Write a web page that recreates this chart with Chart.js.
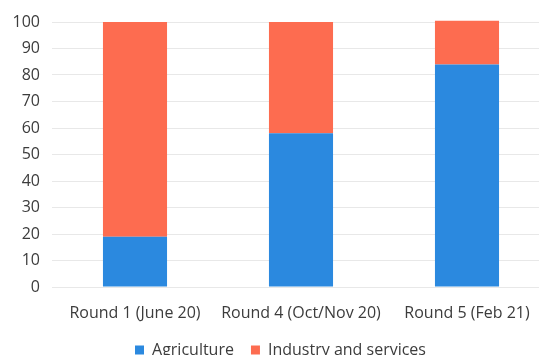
<!DOCTYPE html>
<html>
<head>
<meta charset="utf-8">
<script src="https://cdn.jsdelivr.net/npm/chart.js@4/dist/chart.umd.min.js"></script>
<style>
  html, body { margin: 0; padding: 0; background: #ffffff; overflow: hidden; }
  #wrap { position: absolute; left: 0; top: 0; width: 560px; height: 368px; }
</style>
</head>
<body>
<div id="wrap"><canvas id="chart"></canvas></div>
<script>
// Survey rounds and the share of respondents by sector (%)
const rounds = ['Round 1 (June 20)', 'Round 4 (Oct/Nov 20)', 'Round 5 (Feb 21)'];
const agriculture = [19, 58, 84];
const industryServices = [81, 42, 16.5];
const yTicks = [0, 10, 20, 30, 40, 50, 60, 70, 80, 90, 100];

const FONT = '"Open Sans", "Noto Sans", sans-serif';
const TEXT = '#3c3c3c';

new Chart(document.getElementById('chart'), {
  type: 'bar',
  data: {
    labels: rounds,
    datasets: [
      {
        label: 'Agriculture',
        data: agriculture,
        backgroundColor: '#2b89df',
        borderWidth: 0,
        clip: false
      },
      {
        label: 'Industry and services',
        data: industryServices,
        backgroundColor: '#fd6c50',
        borderWidth: 0,
        clip: false
      }
    ]
  },
  options: {
    responsive: true,
    maintainAspectRatio: false,
    animation: false,
    layout: { padding: { left: 11, right: 10, top: 22, bottom: 0 } },
    datasets: {
      bar: { barPercentage: 1, categoryPercentage: 0.386 }
    },
    plugins: {
      legend: {
        position: 'bottom',
        labels: {
          boxWidth: 9,
          boxHeight: 9,
          padding: 17,
          color: TEXT,
          font: { family: FONT, size: 16 }
        }
      },
      tooltip: { enabled: false }
    },
    scales: {
      x: {
        stacked: true,
        afterFit: (axis) => { axis.height = 38; },
        grid: { display: false, drawTicks: false, tickLength: 0 },
        border: { display: false },
        ticks: {
          color: TEXT,
          padding: 17,
          font: { family: FONT, size: 16 }
        }
      },
      y: {
        stacked: true,
        min: 0,
        max: 100,
        afterBuildTicks: (axis) => { axis.ticks = yTicks.map(v => ({ value: v })); },
        afterFit: (axis) => { axis.width = 41; },
        grid: { color: '#e8e8e8', drawTicks: false },
        border: { display: false },
        ticks: {
          color: TEXT,
          padding: 12,
          font: { family: FONT, size: 16 }
        }
      }
    }
  }
});
</script>
</body>
</html>
